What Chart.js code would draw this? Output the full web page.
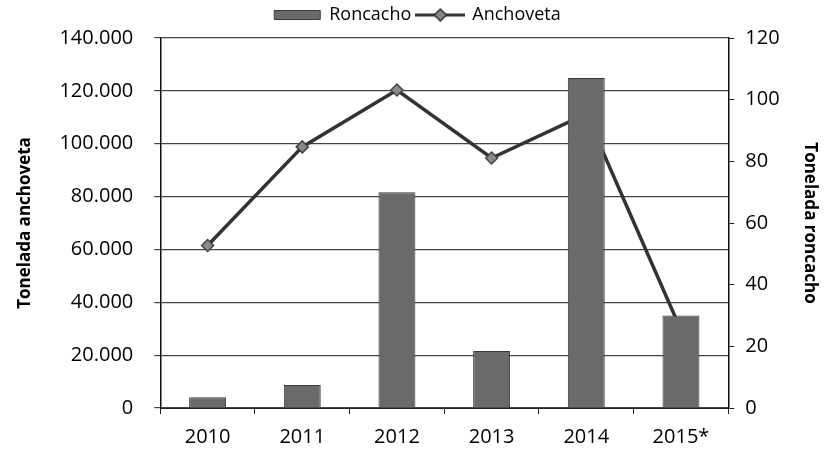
<!DOCTYPE html>
<html>
<head>
<meta charset="utf-8">
<script src="https://cdn.jsdelivr.net/npm/chart.js@4.4.1/dist/chart.umd.min.js"></script>
<style>
    html, body { margin: 0; padding: 0; background: #fff; }
    #wrap { width: 831px; height: 450px; }
</style>
</head>
<body>
<div id="wrap"><canvas id="chart"></canvas></div>
<script>
const years = ["2010", "2011", "2012", "2013", "2014", "2015*"];
const roncacho = [3.5, 7.5, 70, 18.5, 107, 30];
const anchoveta = [61500, 98800, 120300, 94600, 111300, 29500];
const leftTicks = [0, 20000, 40000, 60000, 80000, 100000, 120000, 140000];
const rightTicks = [0, 20, 40, 60, 80, 100, 120];

const font = "'Open Sans', sans-serif";

function miles(v) {
    return String(v).replace(/\B(?=(\d{3})+(?!\d))/g, ".");
}

// legend icon for the line: a line with a diamond in the middle
let lineIcon = document.createElement("canvas");
lineIcon.width = 50;
lineIcon.height = 14;
let ic = lineIcon.getContext("2d");
ic.strokeStyle = "#333";
ic.lineWidth = 3;
ic.beginPath();
ic.moveTo(0, 7);
ic.lineTo(50, 7);
ic.stroke();
ic.fillStyle = "#888";
ic.lineWidth = 1.5;
ic.beginPath();
ic.moveTo(25, 1);
ic.lineTo(31, 7);
ic.lineTo(25, 13);
ic.lineTo(19, 7);
ic.closePath();
ic.fill();
ic.stroke();

// a bit more room under the legend
const legendGap = {
    id: "legendGap",
    beforeInit(chart) {
        const fit = chart.legend.fit;
        chart.legend.fit = function() {
            fit.bind(chart.legend)();
            this.height += 4;
        };
    }
};

new Chart(document.getElementById("chart"), {
    type: "bar",
    plugins: [legendGap],
    data: {
        labels: years,
        datasets: [{
            type: "bar",
            label: "Roncacho",
            data: roncacho,
            yAxisID: "y1",
            backgroundColor: "#6a6a6a",
            borderColor: "#3a3a3a",
            borderWidth: 1,
            barPercentage: 0.39,
            categoryPercentage: 1,
            order: 0
        }, {
            type: "line",
            label: "Anchoveta",
            data: anchoveta,
            yAxisID: "y",
            borderColor: "#333",
            borderWidth: 3.5,
            backgroundColor: "#888",
            pointStyle: "rectRot",
            pointRadius: 6,
            pointBackgroundColor: "#8a8a8a",
            pointBorderColor: "#444",
            pointBorderWidth: 1.5,
            tension: 0,
            order: 1
        }]
    },
    options: {
        responsive: true,
        maintainAspectRatio: false,
        animation: false,
        layout: {
            padding: { left: 15, right: 11, top: 0, bottom: -10 }
        },
        plugins: {
            tooltip: { enabled: false },
            legend: {
                position: "top",
                labels: {
                    color: "#000",
                    font: { family: font, size: 18 },
                    usePointStyle: true,
                    pointStyleWidth: 46,
                    boxHeight: 9,
                    padding: 6,
                    generateLabels: function(chart) {
                        let items = Chart.defaults.plugins.legend.labels.generateLabels(chart);
                        items.forEach(function(it) {
                            if (it.text === "Roncacho") {
                                it.pointStyle = "rect";
                                it.fillStyle = "#6a6a6a";
                                it.strokeStyle = "#3a3a3a";
                                it.lineWidth = 1;
                            } else {
                                it.pointStyle = lineIcon;
                            }
                        });
                        return items;
                    }
                }
            }
        },
        scales: {
            x: {
                offset: true,
                grid: {
                    offset: true,
                    drawOnChartArea: false,
                    drawTicks: true,
                    tickLength: 6,
                    color: "#222"
                },
                border: { color: "#222", width: 1 },
                ticks: {
                    color: "#000",
                    font: { family: font, size: 20, lineHeight: 1 },
                    padding: 13
                }
            },
            y: {
                position: "left",
                min: 0,
                max: 140000,
                afterBuildTicks: function(axis) {
                    axis.ticks = leftTicks.map(v => ({ value: v }));
                },
                grid: {
                    color: "#444",
                    lineWidth: 1.2,
                    tickLength: 6
                },
                border: { color: "#111", width: 1.5 },
                ticks: {
                    color: "#000",
                    font: { family: font, size: 20 },
                    padding: 21,
                    callback: v => miles(v)
                },
                title: {
                    display: true,
                    text: "Tonelada anchoveta",
                    color: "#000",
                    font: { family: font, size: 17, weight: "bold" },
                    padding: { top: 0, bottom: 3 }
                }
            },
            y1: {
                position: "right",
                min: 0,
                max: 120,
                afterBuildTicks: function(axis) {
                    axis.ticks = rightTicks.map(v => ({ value: v }));
                },
                grid: {
                    drawOnChartArea: false,
                    color: "#222",
                    tickLength: 6
                },
                border: { color: "#111", width: 1.5 },
                ticks: {
                    color: "#000",
                    font: { family: font, size: 20 },
                    padding: 11
                },
                title: {
                    display: true,
                    text: "Tonelada roncacho",
                    color: "#000",
                    font: { family: font, size: 17, weight: "bold" },
                    padding: { top: 0, bottom: 9 }
                }
            }
        }
    }
});
</script>
</body>
</html>
